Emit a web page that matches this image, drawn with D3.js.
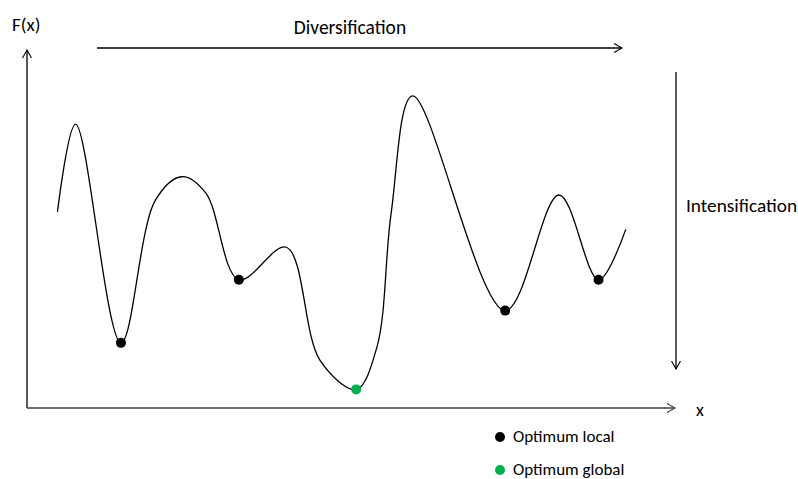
<!DOCTYPE html>
<html>
<head>
<meta charset="utf-8">
<script src="https://cdn.jsdelivr.net/npm/d3@7"></script>
<style>
  body { margin: 0; background: #fff; }
  svg { display: block; font-family: Carlito, Lato, "Open Sans", sans-serif; }
</style>
</head>
<body>
<div id="chart"></div>
<script>
// curve F(x), arbitrary units (x: 0..100, F: 0..100)
var curveX = [4.7, 7.5, 14.5, 19.8, 23.9, 27.6, 32.7,
              40.0, 45.2, 50.8, 54.0, 56.2, 59.5,
              73.8, 82.1, 88.2, 92.4];
var curveF = [54.8, 79.3, 18.2, 58.0, 64.6, 60.0, 35.8,
              44.9, 13.4, 5.2, 17.0, 54.5, 87.2,
              27.2, 59.5, 35.8, 49.9];
// indexes into the curve
var localOptima = [2, 6, 13, 15];
var globalOptima = [9];

var legendLabels = ["Optimum local", "Optimum global"];
var legendColors = ["#000000", "#00b050"];

var w = 798;
var h = 479;

var x = d3.scaleLinear().domain([0, 100]).range([27, 675]);
var y = d3.scaleLinear().domain([0, 100]).range([408, 50]);

var svg = d3.select("#chart")
            .append("svg")
            .attr("width", w)
            .attr("height", h);

// open arrow heads
var defs = svg.append("defs");
function arrowMarker(id, color) {
  defs.append("marker")
      .attr("id", id)
      .attr("viewBox", "-9 -5 10 10")
      .attr("refX", 0)
      .attr("refY", 0)
      .attr("markerWidth", 10)
      .attr("markerHeight", 10)
      .attr("markerUnits", "userSpaceOnUse")
      .attr("orient", "auto")
    .append("path")
      .attr("d", "M-8,-4.5L0,0L-8,4.5")
      .attr("fill", "none")
      .attr("stroke", color)
      .attr("stroke-width", 1.1);
}
arrowMarker("arr", "#000");
arrowMarker("arrGrey", "#404040");

// axes
svg.append("line")
   .attr("x1", x(0)).attr("y1", y(0))
   .attr("x2", x(0)).attr("y2", y(100))
   .attr("stroke", "#000")
   .attr("stroke-width", 1.3)
   .attr("marker-end", "url(#arr)");

svg.append("line")
   .attr("x1", x(0)).attr("y1", y(0))
   .attr("x2", x(100)).attr("y2", y(0))
   .attr("stroke", "#404040")
   .attr("stroke-width", 1.6)
   .attr("marker-end", "url(#arrGrey)");

svg.append("text")
   .attr("x", 12).attr("y", 31)
   .attr("font-size", 19)
   .text("F(x)");

svg.append("text")
   .attr("x", 696).attr("y", 416)
   .attr("font-size", 18)
   .text("x");

// diversification arrow
svg.append("line")
   .attr("x1", 97).attr("y1", 48)
   .attr("x2", 622).attr("y2", 48)
   .attr("stroke", "#000")
   .attr("stroke-width", 1.3)
   .attr("marker-end", "url(#arr)");

svg.append("text")
   .attr("x", 350).attr("y", 34)
   .attr("text-anchor", "middle")
   .attr("font-size", 19.5)
   .text("Diversification");

// intensification arrow
svg.append("line")
   .attr("x1", 676).attr("y1", 72)
   .attr("x2", 676).attr("y2", 369)
   .attr("stroke", "#000")
   .attr("stroke-width", 1.3)
   .attr("marker-end", "url(#arr)");

svg.append("text")
   .attr("x", 686).attr("y", 212)
   .attr("font-size", 19.3)
   .text("Intensification");

// the curve
var pts = curveX.map(function(d, i) { return [d, curveF[i]]; });

var line = d3.line()
    .x(function(d) { return x(d[0]); })
    .y(function(d) { return y(d[1]); })
    .curve(d3.curveCatmullRom.alpha(0.5));

svg.append("path")
   .datum(pts)
   .attr("d", line)
   .attr("fill", "none")
   .attr("stroke", "#000")
   .attr("stroke-width", 1.3);

svg.selectAll("circle.local")
   .data(localOptima)
   .enter()
   .append("circle")
   .attr("class", "local")
   .attr("cx", function(i) { return x(curveX[i]); })
   .attr("cy", function(i) { return y(curveF[i]); })
   .attr("r", 5)
   .attr("fill", legendColors[0]);

svg.selectAll("circle.global")
   .data(globalOptima)
   .enter()
   .append("circle")
   .attr("class", "global")
   .attr("cx", function(i) { return x(curveX[i]); })
   .attr("cy", function(i) { return y(curveF[i]); })
   .attr("r", 5)
   .attr("fill", legendColors[1]);

// legend
var legend = svg.selectAll("g.legend")
    .data(legendLabels)
    .enter()
    .append("g")
    .attr("class", "legend")
    .attr("transform", function(d, i) {
      return "translate(500," + (437 + i * 33) + ")";
    });

legend.append("circle")
      .attr("r", 5)
      .attr("fill", function(d, i) { return legendColors[i]; });

legend.append("text")
      .attr("x", 13)
      .attr("y", 5)
      .attr("font-size", 17)
      .text(function(d) { return d; });
</script>
</body>
</html>
